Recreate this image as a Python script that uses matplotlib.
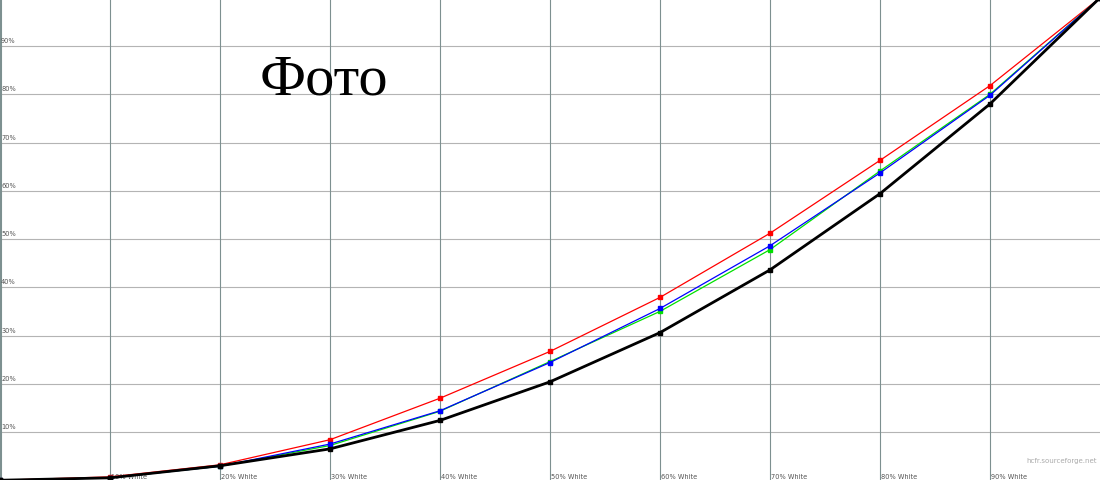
import matplotlib
matplotlib.use("Agg")
import matplotlib.pyplot as plt

levels = [0, 10, 20, 30, 40, 50, 60, 70, 80, 90, 100]
red = [0, 0.7, 3.2, 8.4, 17.0, 26.7, 37.9, 51.2, 66.3, 81.8, 100]
green = [0, 0.5, 2.9, 7.2, 14.3, 24.6, 35.0, 47.8, 64.1, 80.0, 100]
blue = [0, 0.5, 2.9, 7.5, 14.4, 24.4, 35.6, 48.6, 63.7, 79.8, 100]
black = [0, 0.5, 3.0, 6.5, 12.4, 20.4, 30.6, 43.6, 59.4, 78.0, 100]
x_labels = ["10% White", "20% White", "30% White", "40% White", "50% White",
            "60% White", "70% White", "80% White", "90% White"]
y_labels = ["10%", "20%", "30%", "40%", "50%", "60%", "70%", "80%", "90%"]
title = "Фото"
watermark = "hcfr.sourceforge.net"

fig = plt.figure(figsize=(11, 4.81), dpi=100)
ax = fig.add_axes([0, 0, 1, 1])
ax.set_xlim(0, 100)
ax.set_ylim(0.05, 99.75)
for s in ax.spines.values():
    s.set_visible(False)
ax.set_xticks([])
ax.set_yticks([])

for i, lab in enumerate(y_labels):
    v = (i + 1) * 10
    ax.axhline(v, color="#b4b4b4", lw=0.8, zorder=1)
    ax.text(0.1, v + 0.6, lab, fontsize=4.8, color="#555555", ha="left", va="bottom")
for i, lab in enumerate(x_labels):
    v = (i + 1) * 10
    ax.axvline(v, color="#7d9090", lw=0.8, zorder=1)
    ax.text(v + 0.1, 0.9, lab, fontsize=4.8, color="#555555", ha="left", va="center")
ax.axvline(0.05, color="#7d9090", lw=1.5, zorder=1)

ax.plot(levels, red, color="#ff0000", lw=0.9, marker="s", ms=2.6, zorder=3)
ax.plot(levels, green, color="#00e000", lw=0.9, marker="s", ms=2.6, zorder=3)
ax.plot(levels, blue, color="#0000ff", lw=0.9, marker="s", ms=2.6, zorder=4)
ax.plot(levels, black, color="#000000", lw=2.0, marker="s", ms=2.6, zorder=5)

ax.text(23.6, 80.2, title, fontsize=42, family="Liberation Serif", color="black",
        ha="left", va="baseline")
ax.text(99.7, 4.2, watermark, fontsize=5, color="#aaaaaa", ha="right", va="center")

fig.savefig("out.png", dpi=100)
